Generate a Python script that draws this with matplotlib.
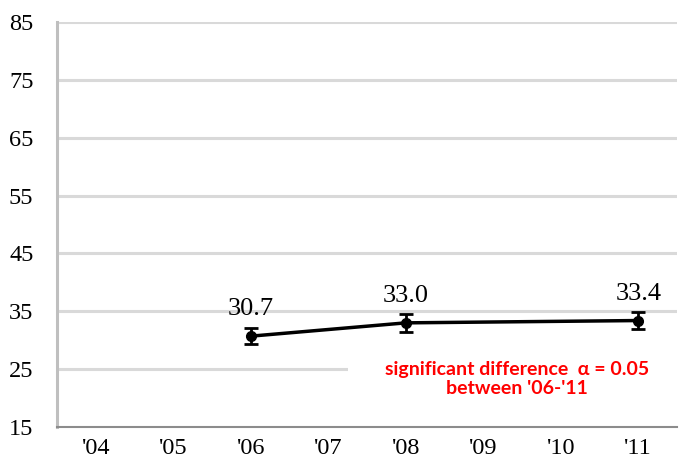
import matplotlib
matplotlib.use("Agg")
import matplotlib.pyplot as plt
from matplotlib.patches import Rectangle

categories = ["'04", "'05", "'06", "'07", "'08", "'09", "'10", "'11"]
point_cats = ["'06", "'08", "'11"]
values = [30.7, 33.0, 33.4]
errors = [1.4, 1.6, 1.5]
yticks = [15, 25, 35, 45, 55, 65, 75, 85]

fig = plt.figure(figsize=(6.79, 4.66), dpi=100)
ax = fig.add_axes([57/679, 1 - 427/466, 620/679, 405/466])

xpos = [categories.index(c) for c in point_cats]
ax.set_xlim(-0.5, len(categories) - 0.5)
ax.set_ylim(15, 85)

for y in yticks[1:]:
    ax.axhline(y, color="#d9d9d9", lw=2.2, zorder=1)

# white box behind annotation
ax.add_patch(Rectangle((3.25, 22.6), 4.25, 6.0, facecolor="white", edgecolor="none", zorder=2))

ax.errorbar(xpos, values, yerr=errors, color="black", lw=2.5, marker="o", ms=7,
            capsize=5, capthick=2, elinewidth=2, zorder=4)
for x, v in zip(xpos, values):
    ax.annotate(f"{v:.1f}", (x, v), xytext=(0, 15), textcoords="offset points",
                ha="center", va="baseline", fontsize=19, family="Liberation Serif", zorder=5)

ax.text(0.742, 0.118, "significant difference  \u03b1 = 0.05\nbetween '06-'11", transform=ax.transAxes,
        ha="center", va="center", color="#ff0000", fontsize=14, fontweight="bold",
        family=["Lato", "DejaVu Sans"], linespacing=1.15, zorder=5)

ax.set_xticks(range(len(categories)))
ax.set_xticklabels(categories, family="Liberation Serif", fontsize=17.5)
ax.set_yticks(yticks)
ax.set_yticklabels([str(t) for t in yticks], family="Liberation Serif", fontsize=17.5)
ax.tick_params(axis="both", length=0)
ax.tick_params(axis="y", pad=17)
ax.tick_params(axis="x", pad=8)

for s in ["top", "right"]:
    ax.spines[s].set_visible(False)
ax.spines["left"].set_color("#bfbfbf")
ax.spines["left"].set_linewidth(2.2)
ax.spines["bottom"].set_color("#8c8c8c")
ax.spines["bottom"].set_linewidth(1.5)

fig.savefig("out.png", dpi=100)
